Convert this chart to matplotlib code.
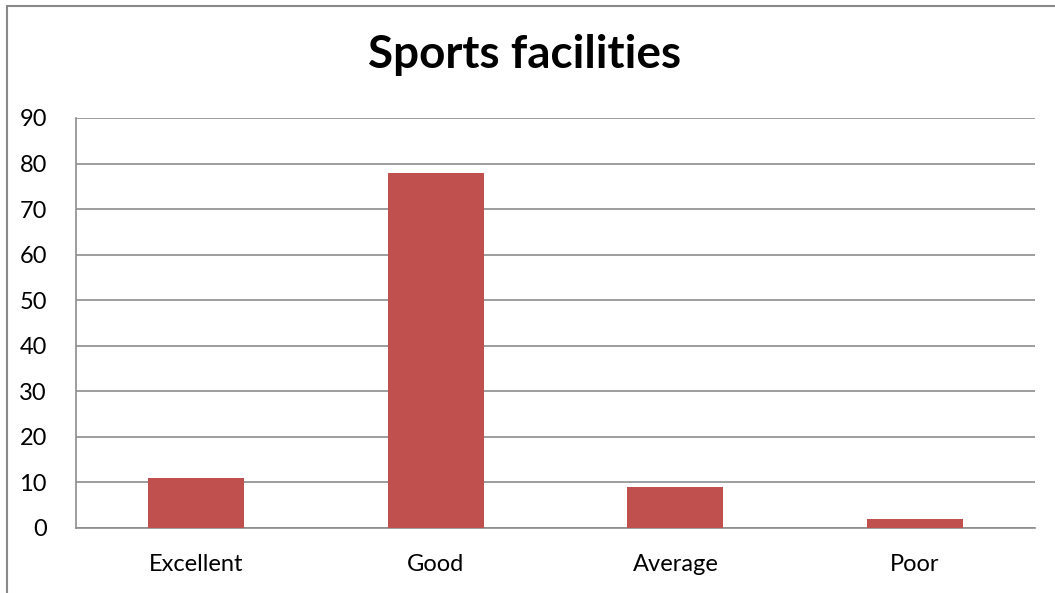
import matplotlib
matplotlib.use("Agg")
import matplotlib.pyplot as plt
from matplotlib.patches import Rectangle

categories = ["Excellent", "Good", "Average", "Poor"]
values = [11, 78, 9, 2]
yticks = [0, 10, 20, 30, 40, 50, 60, 70, 80, 90]

plt.rcParams['font.family'] = ['Lato', 'DejaVu Sans']

W, H = 1055, 593
fig = plt.figure(figsize=(W / 100, H / 100), dpi=100)
ax = fig.add_axes([76 / W, 1 - 528 / H, (1035 - 76) / W, (528 - 118) / H])

# outer chart frame (runs off the right/bottom edge like the screenshot)
fig.patches.append(Rectangle((7 / W, -0.1), 1.2, 1 - 6 / H + 0.1, transform=fig.transFigure,
                             fill=False, edgecolor="#888888", linewidth=1.5))

x = range(len(categories))
ax.bar(x, values, width=0.4, color="#c0504d", zorder=3)
ax.set_xlim(-0.5, len(categories) - 0.5)
ax.set_ylim(0, 90)
ax.set_yticks(yticks)
ax.set_xticks(list(x))
ax.set_xticklabels(categories)
ax.yaxis.grid(True, color="#8c8c8c", linewidth=1.2, zorder=0)
ax.set_axisbelow(True)

for s in ["top", "right"]:
    ax.spines[s].set_visible(False)
ax.spines["left"].set_color("#8c8c8c")
ax.spines["bottom"].set_color("#8c8c8c")
ax.spines["left"].set_linewidth(1.2)
ax.spines["bottom"].set_linewidth(1.2)
ax.tick_params(axis="both", length=0, labelsize=17, colors="black")
ax.tick_params(axis="y", pad=21)
ax.tick_params(axis="x", pad=19)

fig.text(525 / W, 1 - 55 / H, "Sports facilities", ha="center", va="center",
         fontsize=33, fontweight="bold")

fig.savefig("out.png", dpi=100)
